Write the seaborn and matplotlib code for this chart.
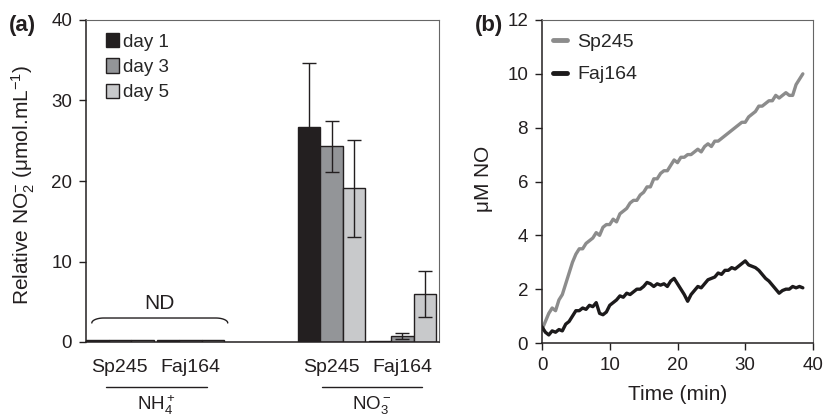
import numpy as np
import pandas as pd
import matplotlib
matplotlib.use("Agg")
import matplotlib.pyplot as plt
import matplotlib.transforms as mtransforms
from matplotlib.lines import Line2D
import seaborn as sns

# ---- panel (a) data ----
groups = ["NH4_Sp245", "NH4_Faj164", "gap", "NO3_Sp245", "NO3_Faj164"]
days = ["day 1", "day 3", "day 5"]
nh4_sp245 = [0.2, 0.2, 0.2]
nh4_faj164 = [0.2, 0.2, 0.2]
no3_sp245 = [26.7, 24.3, 19.1]
no3_faj164 = [0.1, 0.75, 5.95]
no3_sp245_err = [8.0, 3.2, 6.0]
no3_faj164_err = [0.0, 0.35, 2.9]
strain_labels = ["Sp245", "Faj164", "Sp245", "Faj164"]
day_colors = ["#231f20", "#939598", "#c8c9cb"]

# ---- panel (b) data ----
time_min = [i * 0.5 for i in range(78)]
sp245_no = [0.5, 0.8, 1.1, 1.3, 1.2, 1.6, 1.8, 2.2, 2.6, 3.0,
            3.3, 3.5, 3.5, 3.7, 3.8, 3.9, 4.1, 4.0, 4.3, 4.4,
            4.4, 4.6, 4.5, 4.8, 4.9, 5.0, 5.2, 5.3, 5.3, 5.5,
            5.6, 5.8, 5.8, 6.1, 6.1, 6.3, 6.4, 6.4, 6.6, 6.8,
            6.7, 6.9, 6.9, 7.0, 7.0, 7.1, 7.2, 7.1, 7.3, 7.4,
            7.3, 7.5, 7.5, 7.6, 7.7, 7.8, 7.9, 8.0, 8.1, 8.2,
            8.2, 8.4, 8.5, 8.6, 8.8, 8.8, 8.9, 9.0, 9.0, 9.2,
            9.1, 9.2, 9.3, 9.2, 9.2, 9.6, 9.8, 10.0]
faj164_no = [0.6, 0.4, 0.3, 0.45, 0.4, 0.5, 0.45, 0.7, 0.8, 1.0,
             1.2, 1.2, 1.3, 1.25, 1.4, 1.35, 1.5, 1.1, 1.05, 1.15,
             1.4, 1.5, 1.6, 1.75, 1.7, 1.85, 1.8, 1.9, 2.0, 2.0,
             2.1, 2.25, 2.2, 2.1, 2.2, 2.15, 2.2, 2.1, 2.3, 2.4,
             2.2, 2.0, 1.8, 1.55, 1.8, 1.95, 2.1, 2.05, 2.2, 2.35,
             2.4, 2.45, 2.6, 2.55, 2.7, 2.7, 2.8, 2.75, 2.85, 2.95,
             3.05, 2.9, 2.85, 2.8, 2.7, 2.55, 2.4, 2.3, 2.15, 2.0,
             1.85, 1.95, 2.0, 2.0, 2.1, 2.05, 2.1, 2.05]
line_colors = {"Sp245": "#8c8c8c", "Faj164": "#1c1a1b"}

sns.set_theme(style="ticks")
plt.rcParams["font.family"] = ["Liberation Sans", "DejaVu Sans"]
plt.rcParams["mathtext.fontset"] = "custom"
plt.rcParams["mathtext.rm"] = "Liberation Sans"
plt.rcParams["mathtext.it"] = "Liberation Sans:italic"
plt.rcParams["mathtext.bf"] = "Liberation Sans:bold"
text_col = "#231f20"

fig = plt.figure(figsize=(8.23, 4.17), dpi=100)
ax1 = fig.add_axes([86 / 823, 1 - 342 / 417, 353 / 823, 322 / 417])
ax2 = fig.add_axes([542 / 823, 1 - 343 / 417, 271 / 823, 323 / 417])

# ---------- panel (a) ----------
rows = []
for g, vals, errs in [("NH4_Sp245", nh4_sp245, [0, 0, 0]),
                      ("NH4_Faj164", nh4_faj164, [0, 0, 0]),
                      ("NO3_Sp245", no3_sp245, no3_sp245_err),
                      ("NO3_Faj164", no3_faj164, no3_faj164_err)]:
    for d, v, e in zip(days, vals, errs):
        rows.append({"group": g, "day": d, "value": v, "err": e})
bars = pd.DataFrame(rows)

sns.barplot(data=bars, x="group", y="value", hue="day", order=groups,
            hue_order=days, palette=day_colors, width=0.955, errorbar=None,
            edgecolor=text_col, linewidth=1.0, saturation=1, ax=ax1)

err_lookup = {(r.group, r.day): r.err for r in bars.itertuples()}
nh4_edges = []
for day, cont in zip(days, ax1.containers):
    for bar in cont:
        xc = bar.get_x() + bar.get_width() / 2
        g = groups[int(round(xc))]
        if g.startswith("NH4"):
            nh4_edges += [bar.get_x(), bar.get_x() + bar.get_width()]
        e = err_lookup[(g, day)]
        if e > 0:
            ax1.errorbar(xc, bar.get_height(), yerr=e, color=text_col,
                         capsize=5, elinewidth=1.0, capthick=1.0, zorder=1)

ax1.set_ylim(0, 40)
ax1.set_xlim(-0.48, 4.52)
ax1.set_yticks([0, 10, 20, 30, 40])
ax1.set_xticks([])
ax1.set_xlabel("")
ax1.set_ylabel(r"Relative NO$_2^{-}$ ($\mathrm{\mu}$mol.mL$^{-1}$)", fontsize=15, color=text_col)
ax1.yaxis.set_label_coords(-0.139, 0.489)

handles, labels = ax1.get_legend_handles_labels()
ax1.legend(handles, labels, loc="upper left", bbox_to_anchor=(0.02, 1.0),
           frameon=False, handlelength=0.7, handleheight=0.8, handletextpad=0.2,
           labelspacing=0.4, fontsize=13.5, borderaxespad=0.3)

# ND brace over the NH4 bars
bx0, bx1 = min(nh4_edges) + 0.08, max(nh4_edges) + 0.05
rx, ylow, ytop = 0.17, 2.36, 2.98
th = np.linspace(0, np.pi / 2, 20)
left_c = np.column_stack([bx0 + rx - rx * np.cos(th), ylow + (ytop - ylow) * np.sin(th)])
right_c = np.column_stack([bx1 - rx + rx * np.cos(th[::-1]), ylow + (ytop - ylow) * np.sin(th[::-1])])
brace = np.vstack([left_c, right_c])
ax1.plot(brace[:, 0], brace[:, 1], color=text_col, lw=1.0)
ax1.text((bx0 + bx1) / 2, 4.8, "ND", ha="center", va="center", fontsize=15, color=text_col)

# category labels under axis
trans = mtransforms.blended_transform_factory(ax1.transData, ax1.transAxes)
for xc, lab in zip([0, 1, 3, 4], strain_labels):
    ax1.text(xc, -0.093, lab, transform=trans, ha="center", va="baseline",
             fontsize=14, color=text_col)
for center, lab in [(0.52, r"NH$_4^+$"), (3.57, r"NO$_3^-$")]:
    ax1.add_line(Line2D([center - 0.71, center + 0.71], [-0.141, -0.141], transform=trans,
                        color=text_col, lw=1.0, clip_on=False))
    ax1.text(center, -0.16, lab, transform=trans, ha="center", va="top",
             fontsize=13.5, color=text_col)

# ---------- panel (b) ----------
traces = pd.DataFrame({
    "time": time_min * 2,
    "no": sp245_no + faj164_no,
    "strain": ["Sp245"] * len(time_min) + ["Faj164"] * len(time_min),
})
sns.lineplot(data=traces, x="time", y="no", hue="strain", palette=line_colors,
             linewidth=2.4, ax=ax2, legend=False)
ax2.set_xlim(0, 40)
ax2.set_ylim(0, 12)
ax2.set_xticks([0, 10, 20, 30, 40])
ax2.set_yticks([0, 2, 4, 6, 8, 10, 12])
ax2.set_xlabel("Time (min)", fontsize=15, color=text_col)
ax2.set_ylabel(r"$\mathrm{\mu}$M NO", fontsize=15, color=text_col)
ax2.yaxis.set_label_coords(-0.173, 0.508)
ax2.xaxis.set_label_coords(0.5, -0.13)
leg_handles = [Line2D([], [], color=line_colors[s], lw=3.5) for s in ["Sp245", "Faj164"]]
ax2.legend(leg_handles, ["Sp245", "Faj164"], loc="upper left", bbox_to_anchor=(-0.025, 1.012),
           frameon=False, handlelength=0.75, handletextpad=0.5, labelspacing=0.75,
           fontsize=14)

for ax in (ax1, ax2):
    ax.spines["left"].set_color(text_col)
    ax.spines["bottom"].set_color(text_col)
    ax.spines["left"].set_linewidth(1.1)
    ax.spines["bottom"].set_linewidth(1.1)
    for s in ("top", "right"):
        ax.spines[s].set_visible(True)
        ax.spines[s].set_color("#666666")
        ax.spines[s].set_linewidth(0.8)
    ax.tick_params(axis="both", direction="out", length=5, width=1.0, pad=5,
                   colors=text_col, labelsize=13.5)
    ax.set_facecolor("white")

fig.text(22 / 823, 1 - 26 / 417, "(a)", fontsize=16, fontweight="bold", ha="center",
         va="center", color=text_col)
fig.text(489 / 823, 1 - 26 / 417, "(b)", fontsize=16, fontweight="bold", ha="center",
         va="center", color=text_col)

fig.savefig("out.png", dpi=100, facecolor="white")
